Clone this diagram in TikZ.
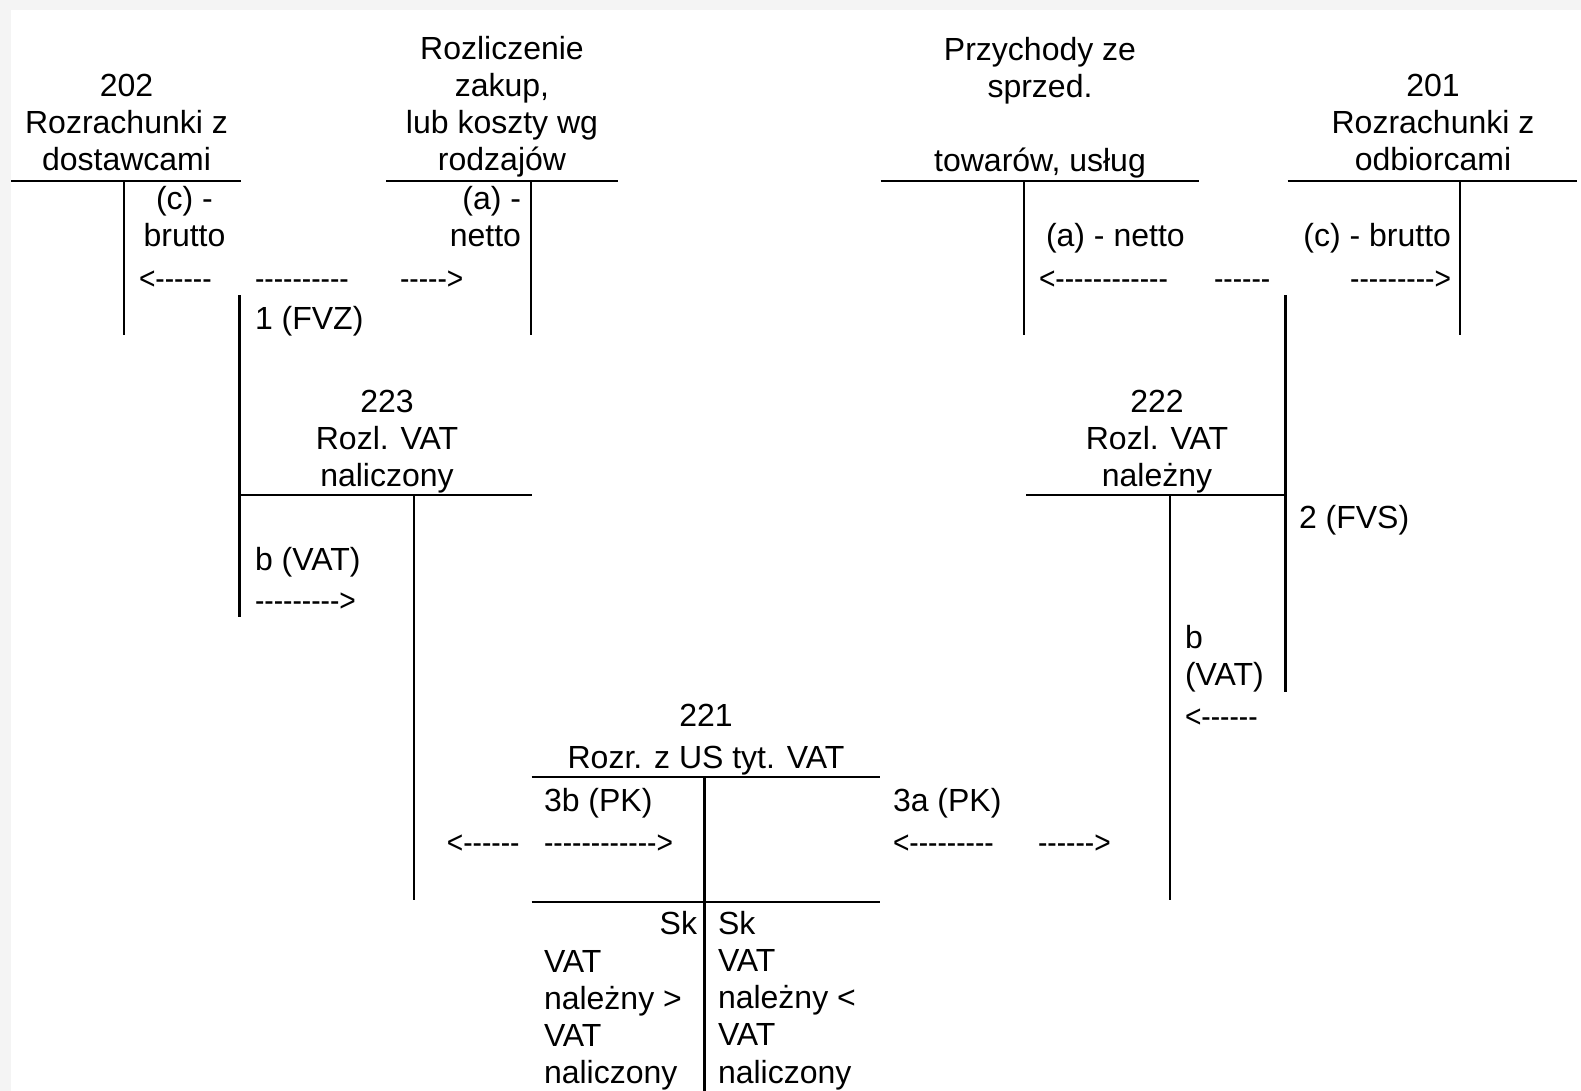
\documentclass[tikz,border=0pt]{standalone}
\usepackage{fontspec}
\setmainfont{Liberation Sans}
\newfontfamily\dashfont{Liberation Sans}[FakeStretch=0.88,Ligatures=TeXOff]
\definecolor{bggray}{RGB}{244,244,244}
\begin{document}
\begin{tikzpicture}[x=1pt,y=-1pt,
  txt/.style={inner sep=0pt,outer sep=0pt,font=\fontsize{32}{37}\selectfont,text=black},
  ttl/.style={txt,align=center,anchor=base},
  lft/.style={txt,anchor=base west,align=left},
  rgt/.style={txt,anchor=base east,align=right},
  dsh/.style={inner sep=0pt,outer sep=0pt,font=\dashfont\fontsize{32}{37}\selectfont,text=black},
  ln/.style={line width=2.2pt,black}]
\useasboundingbox (0,0) rectangle (1581,1091);
\fill[bggray] (0,0) rectangle (1581,1091);
\fill[white] (11,10) rectangle (1581,1091);

% ---- titles (y = baseline of the last line)
\node[ttl] (t202) at (126.5,171) {202\\Rozrachunki z\\dostawcami};
\node[ttl] (tRozl) at (502,171) {Rozliczenie\\zakup,\\lub koszty wg\\rodzajów};
\node[ttl] (tPrz) at (1040,171.5) {Przychody ze\\sprzed.\\\mbox{}\\towarów, usług};
\node[ttl] (t201) at (1433,171) {201\\Rozrachunki z\\odbiorcami};
\node[ttl] (t223) at (387,486) {223\\Rozl. VAT\\naliczony};
\node[ttl] (t222) at (1157,486) {222\\Rozl. VAT\\należny};
\node[ttl,font=\fontsize{32}{41.6}\selectfont] (t221) at (706,768.3) {221\\Rozr. z US tyt. VAT};

% ---- T-account lines
\draw[ln] (11,181) -- (241,181);
\draw[ln] (123.7,181) -- (123.7,335);
\draw[ln] (386,181) -- (618,181);
\draw[ln] (530.6,181) -- (530.6,335);
\draw[ln] (880.7,181) -- (1199,181);
\draw[ln] (1024,181) -- (1024,335);
\draw[ln] (1287.6,181) -- (1577,181);
\draw[ln] (1460,181) -- (1460,335);
\draw[ln] (239.5,295) -- (239.5,617);
\draw[ln] (239.5,495) -- (531.7,495);
\draw[ln] (414,495) -- (414,900);
\draw[ln] (1285.5,295) -- (1285.5,692);
\draw[ln] (1026,495) -- (1285.5,495);
\draw[ln] (1170,495) -- (1170,900);
\draw[ln] (531.6,776.7) -- (879.8,776.7);
\draw[ln] (531.6,901.7) -- (879.8,901.7);
\draw[ln] (704.4,776.7) -- (704.4,1091);

% ---- entries
\node[ttl] (c202) at (184.5,247) {(c) -\\brutto};
\node[rgt] (aRozl) at (521,247) {(a) -\\netto};
\node[lft] (fvz) at (255,329) {1 (FVZ)};
\node[lft] (aPrz) at (1046,246.7) {(a) - netto};
\node[rgt] (c201) at (1451,246.7) {(c) - brutto};
\node[lft] (b223) at (255,570) {b (VAT)};
\node[lft] (fvs) at (1299,528) {2 (FVS)};
\node[lft] (b222) at (1185,685.3) {b\\(VAT)};
\node[lft] (pk3b) at (544,811.7) {3b (PK)};
\node[lft] (pk3a) at (893,811.7) {3a (PK)};
\node[rgt] (skL) at (697,934) {Sk};
\node[lft] (txL) at (544,1083) {VAT\\należny >\\VAT\\naliczony};
\node[lft,font=\fontsize{32}{37.25}\selectfont] (txR) at (718,1083) {Sk\\VAT\\należny <\\VAT\\naliczony};

% ---- text arrows
\node[dsh,anchor=base west] (d1) at (139,289.6) {<------};
\node[dsh,anchor=base west] (d2) at (255,289.6) {----------};
\node[dsh,anchor=base west] (d3) at (400,289.6) {----->};
\node[dsh,anchor=base west] (d4) at (1039,289.6) {<------------};
\node[dsh,anchor=base west] (d5) at (1214,289.6) {------};
\node[dsh,anchor=base east] (d6) at (1451,289.6) {--------->};
\node[dsh,anchor=base west] (d7) at (255,611) {--------->};
\node[dsh,anchor=base west] (d8) at (1185,727.6) {<------};
\node[dsh,anchor=base west] (d9) at (446.8,853.3) {<------};
\node[dsh,anchor=base west] (d10) at (544,853.3) {------------>};
\node[dsh,anchor=base west] (d11) at (893,853.3) {<---------};
\node[dsh,anchor=base west] (d12) at (1038,853.3) {------>};
\end{tikzpicture}
\end{document}
